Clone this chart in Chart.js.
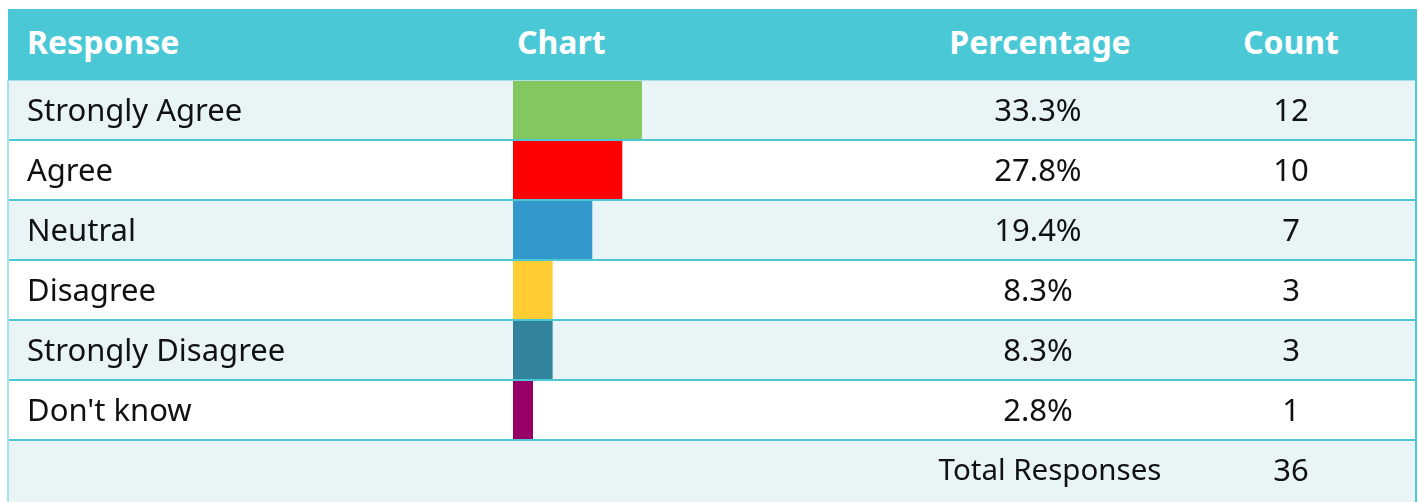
<!DOCTYPE html>
<html>
<head>
<meta charset="utf-8">
<script src="https://cdn.jsdelivr.net/npm/chart.js@4.4.1/dist/chart.umd.min.js"></script>
<style>
  html, body { margin: 0; padding: 0; background: #ffffff; width: 1419px; height: 502px; overflow: hidden; }
  body { font-family: "Noto Sans", "Open Sans", sans-serif; color: #111; position: relative; }
  .abs { position: absolute; }
  .hdr { left: 8px; top: 9px; width: 1409px; height: 71px; background: #4bc8d6; }
  .htxt { color: #fff; font-weight: bold; font-size: 32px; line-height: 66px; top: 9px; white-space: nowrap; }
  .row { left: 8px; width: 1409px; height: 60px; }
  .line { left: 8px; width: 1409px; height: 2px; background: #4cc8d5; z-index: 3; }
  .vline { top: 80px; width: 2px; height: 422px; background: #4cc8d5; z-index: 3; }
  .txt { font-size: 31px; line-height: 60px; white-space: nowrap; z-index: 4; }
  .ctr { transform: translateX(-50%); }
  #chartBox { left: 513px; top: 80px; width: 400px; height: 360px; z-index: 2; }
</style>
</head>
<body>
<div id="root"></div>
<div id="chartBox" class="abs"><canvas id="c" width="400" height="360"></canvas></div>
<script>
const categories = ["Strongly Agree", "Agree", "Neutral", "Disagree", "Strongly Disagree", "Don't know"];
const percentages = [33.3, 27.8, 19.4, 8.3, 8.3, 2.8];
const counts = [12, 10, 7, 3, 3, 1];
const totalResponses = 36;
const headers = ["Response", "Chart", "Percentage", "Count"];
const barColors = ["#84c75e", "#ff0000", "#3399cc", "#ffcc33", "#31849b", "#990066"];

const root = document.getElementById('root');
function el(cls, style, text) {
  const d = document.createElement('div');
  d.className = 'abs ' + cls;
  Object.assign(d.style, style);
  if (text !== undefined) d.textContent = text;
  root.appendChild(d);
  return d;
}
// header
el('hdr', {});
el('htxt', { left: '27px' }, headers[0]);
el('htxt', { left: '517px' }, headers[1]);
el('htxt ctr', { left: '1040px' }, headers[2]);
el('htxt ctr', { left: '1291px' }, headers[3]);
el('', { left: '8px', top: '80px', width: '1409px', height: '1px', background: '#a6e0e8', zIndex: 3 });

// rows
const rowTop = 80, rowH = 60;
categories.forEach((cat, i) => {
  const top = rowTop + i * rowH;
  el('row', { top: top + 'px', background: i % 2 === 0 ? '#e8f4f6' : '#ffffff' });
  el('txt', { left: '27px', top: (top - 1) + 'px' }, cat);
  el('txt ctr', { left: '1038px', top: (top - 1) + 'px' }, percentages[i].toFixed(1) + '%');
  el('txt ctr', { left: '1291px', top: (top - 1) + 'px' }, String(counts[i]));
  el('line', { top: (top + rowH - 1) + 'px' });
});
// total row
const tTop = rowTop + categories.length * rowH + 1;
el('row', { top: tTop + 'px', height: (502 - tTop) + 'px', background: '#e8f4f6' });
el('txt ctr', { left: '1050px', top: (tTop - 2) + 'px', fontSize: '29.5px' }, 'Total Responses');
el('txt ctr', { left: '1291px', top: (tTop - 2) + 'px' }, String(totalResponses));
// outer verticals
el('vline', { left: '7px', width: '2px', background: '#a6e0e8' });
el('vline', { left: '1415px' });

new Chart(document.getElementById('c'), {
  type: 'bar',
  data: {
    labels: categories,
    datasets: [{
      data: percentages,
      base: -2.8,
      backgroundColor: barColors,
      borderWidth: 0,
      categoryPercentage: 1.0,
      barPercentage: 0.98
    }]
  },
  options: {
    indexAxis: 'y',
    responsive: false,
    animation: false,
    layout: { padding: 0 },
    plugins: { legend: { display: false }, tooltip: { enabled: false } },
    scales: {
      x: { display: false, min: -2.8, max: 109.2, grid: { display: false } },
      y: { display: false, grid: { display: false } }
    }
  }
});
</script>
</body>
</html>
